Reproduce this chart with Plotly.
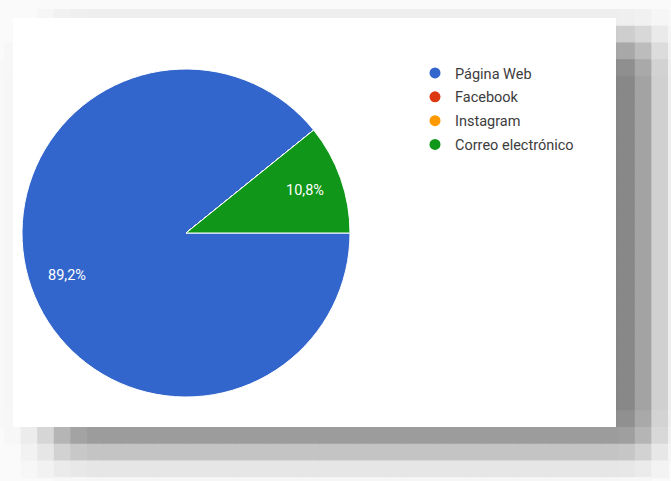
import math
import plotly.graph_objects as go

# Data: survey answers by channel
categories = ["Página Web", "Facebook", "Instagram", "Correo electrónico"]
values = [89.2, 0.0, 0.0, 10.8]
colors = ["#3366cc", "#dc3912", "#ff9900", "#109618"]

W, H = 671, 481


def px(x):
    return x / W


def py(y):
    return 1 - y / H


# Pie geometry (pixels)
CX, CY, R = 186, 233, 164
START_DEG = 0.0  # first slice starts at 3 o'clock and runs clockwise

fig = go.Figure()

fig.add_trace(go.Pie(
    labels=categories,
    values=values,
    marker=dict(colors=colors, line=dict(color="white", width=1)),
    sort=False,
    direction="clockwise",
    rotation=90,
    textinfo="none",
    showlegend=False,
    hoverinfo="label+percent",
    domain=dict(x=[px(CX - R), px(CX + R)], y=[py(CY + R), py(CY - R)]),
))

# Percentage labels placed at each slice's mid-angle
total = sum(values)
annotations = []
acc = 0.0
for v in values:
    if v > 0:
        frac = v / total
        mid = START_DEG - 360 * (acc + frac / 2)  # clockwise
        a = math.radians(mid)
        lx = CX + 0.77 * R * math.cos(a)
        ly = CY - 0.77 * R * math.sin(a)
        annotations.append(dict(
            x=px(lx), y=py(ly), xref="paper", yref="paper",
            text=f"{frac * 100:.1f}%".replace(".", ","), showarrow=False,
            font=dict(color="white", size=14.5, family="Roboto"),
            xanchor="center", yanchor="middle",
        ))
    acc += v / total

# Legend entries as circle markers
for i, (name, col) in enumerate(zip(categories, colors)):
    fig.add_trace(go.Scatter(
        x=[None], y=[None], mode="markers", name=name,
        marker=dict(color=col, size=11, symbol="circle"),
        legendgroup=f"g{i}", showlegend=True,
    ))

# Soft drop shadow drawn as a coarse grid of gray blocks behind the panel
cw, cx0 = 16.6, 4.0
rh, ry0 = 16.72, 9.0
col_profile = {-1: 0.02, 0: 0.03, 1: 0.15, 2: 0.38, 3: 0.74, 4: 0.93,
               37: 0.975, 38: 0.74, 39: 0.36, 40: 0.1}
row_profile = {-1: 0.0, 0: 0.1, 1: 0.39, 2: 0.72, 3: 0.94,
               24: 0.93, 25: 0.8, 26: 0.46, 27: 0.17, 28: 0.03}
shapes = []
for k in range(-1, 41):
    fx = col_profile.get(k, 1.0)
    for j in range(-1, 29):
        fy = row_profile.get(j, 1.0)
        d = 117 * fx * fy
        if d < 2:
            continue
        x0, x1 = cx0 + k * cw, cx0 + (k + 1) * cw
        y0, y1 = ry0 + j * rh, ry0 + (j + 1) * rh
        # skip blocks fully hidden by the white panel
        if x0 >= 13 and x1 <= 616 and y0 >= 18 and y1 <= 427:
            continue
        v = int(round(250 - d))
        c = f"rgb({v},{v},{v})"
        shapes.append(dict(
            type="rect", xref="paper", yref="paper", layer="below",
            x0=px(max(x0, 0)), x1=px(min(x1 + 1, W)),
            y0=py(min(y1 + 1, H)), y1=py(max(y0, 0)),
            fillcolor=c, line=dict(width=0),
        ))

# White chart panel
shapes.append(dict(
    type="rect", xref="paper", yref="paper", layer="below",
    x0=px(13), x1=px(616), y0=py(427), y1=py(18),
    fillcolor="white", line=dict(width=0),
))

fig.update_layout(
    width=W, height=H,
    margin=dict(l=0, r=0, t=0, b=0),
    paper_bgcolor="#fafafa",
    plot_bgcolor="rgba(0,0,0,0)",
    xaxis=dict(visible=False),
    yaxis=dict(visible=False),
    shapes=shapes,
    annotations=annotations,
    legend=dict(
        x=px(415), y=py(57), xanchor="left", yanchor="top",
        bgcolor="rgba(0,0,0,0)",
        font=dict(family="Roboto", size=14.5, color="#3c3c3c"),
        traceorder="grouped", tracegroupgap=2,
        itemclick=False, itemdoubleclick=False,
    ),
)

fig.write_html("out.html")
